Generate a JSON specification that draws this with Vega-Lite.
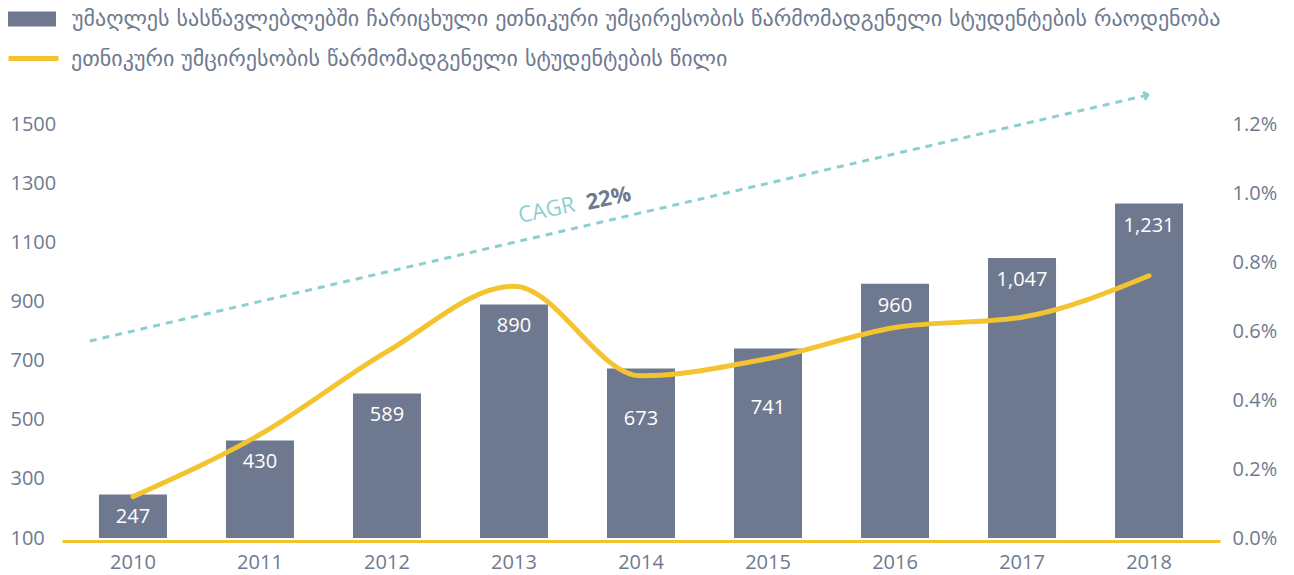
{
  "$schema": "https://vega.github.io/schema/vega-lite/v6.json",
  "width": 1158,
  "height": 414,
  "autosize": {"type": "none"},
  "padding": {"left": 62, "top": 124, "right": 74, "bottom": 37},
  "background": "white",
  "config": {
    "view": {"stroke": null},
    "font": "Open Sans",
    "axis": {
      "labelFont": "Open Sans",
      "labelFontSize": 20,
      "labelColor": "#6E7A8F",
      "ticks": false,
      "tickSize": 0,
      "domain": false,
      "grid": false,
      "title": null
    },
    "legend": {
      "labelFont": "DejaVu Sans",
      "labelFontSize": 22,
      "labelColor": "#6E7A8F",
      "labelLimit": 0,
      "padding": 0,
      "offset": 0,
      "title": null
    }
  },
  "datasets": {
    "main": [
      {"year": "2010", "count": 247, "share": 0.12},
      {"year": "2011", "count": 430, "share": 0.30},
      {"year": "2012", "count": 589, "share": 0.54},
      {"year": "2013", "count": 890, "share": 0.73},
      {"year": "2014", "count": 673, "share": 0.47},
      {"year": "2015", "count": 741, "share": 0.52},
      {"year": "2016", "count": 960, "share": 0.61},
      {"year": "2017", "count": 1047, "share": 0.64},
      {"year": "2018", "count": 1231, "share": 0.76}
    ],
    "trend": [
      {"x": 2009.66, "y": 0.571, "x2": 2017.99, "y2": 1.284}
    ],
    "notes": [
      {"x": 2013.047, "y": 0.913, "label": "CAGR"},
      {"x": 2013.583, "y": 0.951, "label": "22%"}
    ]
  },
  "layer": [
    {
      "data": {"name": "main"},
      "encoding": {
        "x": {
          "field": "year",
          "type": "ordinal",
          "scale": {"paddingInner": 0.4646, "paddingOuter": 0.291},
          "axis": {
            "labelAngle": 0,
            "domain": true,
            "domainColor": "#F4C430",
            "domainWidth": 3,
            "offset": 3,
            "labelPadding": 11
          }
        }
      },
      "layer": [
        {
          "encoding": {
            "y": {
              "field": "count",
              "type": "quantitative",
              "scale": {"domain": [100, 1500], "zero": false, "nice": false},
              "axis": {
                "values": [100, 300, 500, 700, 900, 1100, 1300, 1500],
                "format": "d",
                "labelAlign": "left",
                "labelPadding": 52,
                "labelBaseline": "middle"
              }
            }
          },
          "layer": [
            {
              "mark": {"type": "bar"},
              "encoding": {
                "y2": {"datum": 100},
                "color": {
                  "datum": "უმაღლეს სასწავლებლებში ჩარიცხული ეთნიკური უმცირესობის წარმომადგენელი სტუდენტების რაოდენობა",
                  "type": "nominal",
                  "scale": {"range": ["#6E7990"]},
                  "legend": {
                    "orient": "none",
                    "legendX": -45,
                    "legendY": -120,
                    "symbolType": "M-1.6,-0.5H1.6V0.5H-1.6Z",
                    "symbolSize": 900,
                    "symbolStrokeWidth": 0,
                    "symbolOpacity": 1,
                    "labelOffset": 25
                  }
                }
              }
            },
            {
              "transform": [{"filter": "datum.year != '2014' && datum.year != '2015'"}],
              "mark": {"type": "text", "color": "white", "fontSize": 20, "baseline": "middle", "dy": 22, "font": "Open Sans"},
              "encoding": {"text": {"field": "count", "type": "quantitative", "format": ","}}
            },
            {
              "transform": [{"filter": "datum.year == '2014'"}],
              "mark": {"type": "text", "color": "white", "fontSize": 20, "baseline": "middle", "dy": 50, "font": "Open Sans"},
              "encoding": {"text": {"field": "count", "type": "quantitative", "format": ","}}
            },
            {
              "transform": [{"filter": "datum.year == '2015'"}],
              "mark": {"type": "text", "color": "white", "fontSize": 20, "baseline": "middle", "dy": 60, "font": "Open Sans"},
              "encoding": {"text": {"field": "count", "type": "quantitative", "format": ","}}
            }
          ]
        },
        {
          "mark": {"type": "line", "color": "#F4C430", "strokeWidth": 5, "interpolate": "monotone", "strokeCap": "round", "strokeJoin": "round"},
          "encoding": {
            "y": {
              "field": "share",
              "type": "quantitative",
              "scale": {"domain": [0, 1.2], "nice": false},
              "axis": {
                "orient": "right",
                "values": [0, 0.2, 0.4, 0.6, 0.8, 1.0, 1.2],
                "labelExpr": "format(datum.value, '.1f') + '%'",
                "labelPadding": 12,
                "labelAlign": "left",
                "labelBaseline": "middle"
              }
            },
            "stroke": {
              "datum": "ეთნიკური უმცირესობის წარმომადგენელი სტუდენტების წილი",
              "type": "nominal",
              "scale": {"range": ["#F4C430"]},
              "legend": {
                "orient": "none",
                "legendX": -56,
                "legendY": -93,
                "symbolType": "stroke",
                "symbolSize": 2500,
                "symbolStrokeWidth": 5,
                "labelOffset": 10
              }
            }
          }
        }
      ],
      "resolve": {"scale": {"y": "independent"}}
    },
    {
      "layer": [
        {
          "data": {"name": "trend"},
          "mark": {"type": "rule", "color": "#8CCFD0", "strokeWidth": 3, "strokeDash": [7, 6]},
          "encoding": {
            "x": {"field": "x", "type": "quantitative", "scale": {"domain": [2009.441, 2018.559], "nice": false, "zero": false}, "axis": null},
            "y": {"field": "y", "type": "quantitative", "scale": {"domain": [0, 1.2], "nice": false, "zero": false}, "axis": null},
            "x2": {"field": "x2"},
            "y2": {"field": "y2"}
          }
        },
        {
          "data": {"name": "trend"},
          "mark": {"type": "point", "shape": "M-1,-1L0,0L-1,1", "filled": false, "stroke": "#8CCFD0", "strokeWidth": 3, "size": 64, "angle": -13, "opacity": 1},
          "encoding": {
            "x": {"field": "x2", "type": "quantitative", "scale": {"domain": [2009.441, 2018.559], "nice": false, "zero": false}, "axis": null},
            "y": {"field": "y2", "type": "quantitative", "scale": {"domain": [0, 1.2], "nice": false, "zero": false}, "axis": null}
          }
        },
        {
          "data": {"name": "notes"},
          "transform": [{"filter": "datum.label == 'CAGR'"}],
          "mark": {"type": "text", "align": "left", "baseline": "alphabetic", "angle": -12, "fontSize": 22, "color": "#8CCFD0", "font": "Open Sans"},
          "encoding": {
            "x": {"field": "x", "type": "quantitative", "scale": {"domain": [2009.441, 2018.559], "nice": false, "zero": false}, "axis": null},
            "y": {"field": "y", "type": "quantitative", "scale": {"domain": [0, 1.2], "nice": false, "zero": false}, "axis": null},
            "text": {"field": "label"}
          }
        },
        {
          "data": {"name": "notes"},
          "transform": [{"filter": "datum.label == '22%'"}],
          "mark": {"type": "text", "align": "left", "baseline": "alphabetic", "angle": -12, "fontSize": 22, "fontWeight": "bold", "color": "#6E7990", "font": "Open Sans"},
          "encoding": {
            "x": {"field": "x", "type": "quantitative", "scale": {"domain": [2009.441, 2018.559], "nice": false, "zero": false}, "axis": null},
            "y": {"field": "y", "type": "quantitative", "scale": {"domain": [0, 1.2], "nice": false, "zero": false}, "axis": null},
            "text": {"field": "label"}
          }
        }
      ]
    }
  ],
  "resolve": {"scale": {"x": "independent", "y": "independent"}}
}
